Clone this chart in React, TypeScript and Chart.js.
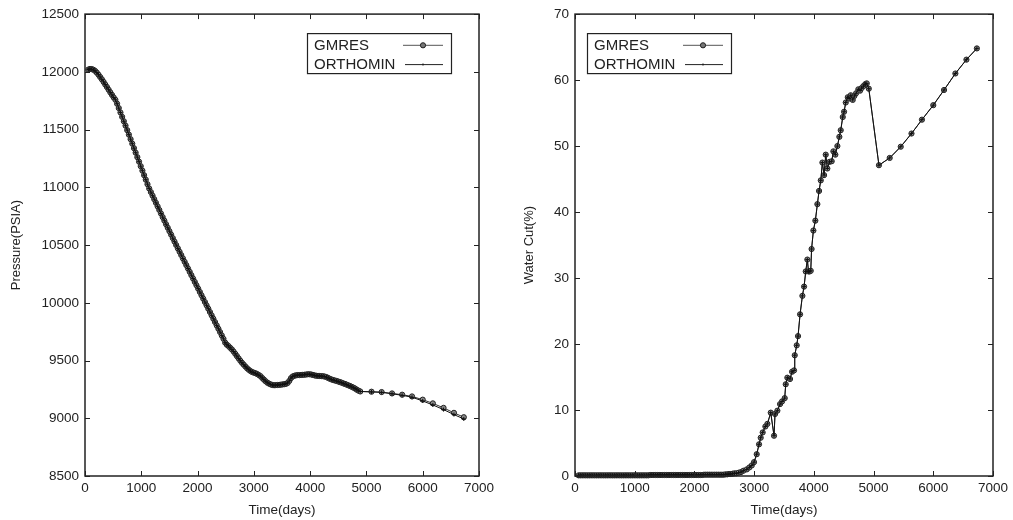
import React, { useEffect, useRef } from "react";
import { Chart, registerables } from "chart.js";

Chart.register(...registerables);

const FONT = "'Liberation Sans', Arial, Helvetica, sans-serif";
const INK = "#222";

// ---------- Left chart: Pressure (PSIA) vs Time (days) ----------
const pressureTimes = [
  60, 90, 120, 150, 180, 210, 240, 270, 300, 330,
  360, 390, 420, 450, 480, 510, 540, 570, 600, 630,
  660, 690, 720, 750, 780, 810, 840, 870, 900, 930,
  960, 990, 1020, 1050, 1080, 1110, 1140, 1170, 1200, 1230,
  1260, 1290, 1320, 1350, 1380, 1410, 1440, 1470, 1500, 1530,
  1560, 1590, 1620, 1650, 1680, 1710, 1740, 1770, 1800, 1830,
  1860, 1890, 1920, 1950, 1980, 2010, 2040, 2070, 2100, 2130,
  2160, 2190, 2220, 2250, 2280, 2310, 2340, 2370, 2400, 2430,
  2460, 2490, 2520, 2550, 2580, 2610, 2640, 2670, 2700, 2730,
  2760, 2790, 2820, 2850, 2880, 2910, 2940, 2970, 3000, 3030,
  3060, 3090, 3120, 3150, 3180, 3210, 3240, 3270, 3300, 3330,
  3360, 3390, 3420, 3450, 3480, 3510, 3540, 3570, 3600, 3630,
  3660, 3690, 3720, 3750, 3780, 3810, 3840, 3870, 3900, 3930,
  3960, 3990, 4020, 4050, 4080, 4110, 4140, 4170, 4200, 4230,
  4260, 4290, 4320, 4350, 4380, 4410, 4440, 4470, 4500, 4530,
  4560, 4590, 4620, 4650, 4680, 4710, 4740, 4770, 4800, 4830,
  4860, 4890,
];
// both solvers coincide over the dense part of the run
const pressureShared = [
  12020, 12025, 12024, 12018, 12008, 11993, 11975, 11955, 11935, 11913,
  11890, 11868, 11845, 11822, 11800, 11778, 11758, 11724, 11686, 11648,
  11610, 11572, 11534, 11495, 11456, 11417, 11378, 11339, 11300, 11261,
  11222, 11183, 11144, 11105, 11066, 11027, 10990, 10959, 10928, 10897,
  10866, 10835, 10804, 10773, 10742, 10711, 10680, 10650, 10620, 10590,
  10560, 10530, 10500, 10471, 10442, 10413, 10384, 10355, 10326, 10297,
  10268, 10239, 10210, 10181, 10152, 10123, 10094, 10065, 10036, 10007,
  9978, 9949, 9920, 9891, 9862, 9833, 9804, 9775, 9746, 9717,
  9688, 9655, 9637, 9625, 9610, 9596, 9578, 9558, 9538, 9518,
  9498, 9480, 9464, 9448, 9433, 9420, 9409, 9400, 9395, 9390,
  9383, 9374, 9364, 9348, 9334, 9320, 9308, 9300, 9293, 9288,
  9286, 9287, 9288, 9289, 9291, 9293, 9295, 9298, 9306, 9324,
  9348, 9362, 9368, 9372, 9374, 9374, 9375, 9376, 9377, 9379,
  9381, 9381, 9379, 9375, 9371, 9368, 9367, 9366, 9365, 9364,
  9361, 9357, 9349, 9342, 9336, 9331, 9327, 9323, 9318, 9313,
  9308, 9302, 9297, 9291, 9285, 9279, 9272, 9265, 9257, 9247,
  9239, 9232,
];
const pressureLateTimes = [5090, 5270, 5455, 5635, 5810, 6000, 6180, 6370, 6555, 6730];
const gmresPressureLate = [9230, 9227, 9215, 9204, 9189, 9161, 9129, 9090, 9047, 9009];
const orthominPressureLate = [9228, 9224, 9212, 9199, 9182, 9150, 9115, 9075, 9032, 8994];

// ---------- Right chart: Water Cut (%) vs Time (days) ----------
const waterCutTimes = [
  60, 90, 120, 150, 180, 210, 240, 270, 300, 330,
  360, 390, 420, 450, 480, 510, 540, 570, 600, 630,
  660, 690, 720, 750, 780, 810, 840, 870, 900, 930,
  960, 990, 1020, 1050, 1080, 1110, 1140, 1170, 1200, 1230,
  1260, 1290, 1320, 1350, 1380, 1410, 1440, 1470, 1500, 1530,
  1560, 1590, 1620, 1650, 1680, 1710, 1740, 1770, 1800, 1830,
  1860, 1890, 1920, 1950, 1980, 2010, 2040, 2070, 2100, 2130,
  2160, 2190, 2220, 2250, 2280, 2310, 2340, 2370, 2400, 2430,
  2460, 2490, 2520, 2550, 2580, 2610, 2640, 2670, 2700,
  2740, 2780, 2820, 2876, 2920, 2960, 2998, 3043, 3082, 3110,
  3143, 3188, 3222, 3278, 3333, 3350, 3389, 3434, 3467, 3512,
  3529, 3556, 3601, 3635, 3668, 3680, 3713, 3735, 3769, 3808,
  3836, 3864, 3891, 3910, 3930, 3948, 3962, 3992, 4025, 4059,
  4087, 4116, 4143, 4171, 4199, 4226, 4260, 4299, 4327, 4360,
  4394, 4427, 4450, 4484, 4506, 4534, 4568, 4590, 4618, 4651,
  4679, 4707, 4745, 4774, 4800, 4830, 4863, 4886, 4920,
  5090, 5270, 5455, 5635, 5810, 6000, 6180, 6370, 6555, 6730,
];
const waterCutValues = [
  0.1, 0.1, 0.1, 0.1, 0.1, 0.1, 0.1, 0.1, 0.1, 0.1,
  0.1, 0.1, 0.1, 0.1, 0.1, 0.1, 0.1, 0.1, 0.1, 0.1,
  0.1, 0.1, 0.1, 0.1, 0.1, 0.1, 0.1, 0.1, 0.1, 0.1,
  0.1, 0.1, 0.1, 0.1, 0.1, 0.1, 0.1, 0.1, 0.1, 0.1,
  0.15, 0.15, 0.15, 0.15, 0.15, 0.15, 0.15, 0.15, 0.15, 0.15,
  0.15, 0.15, 0.15, 0.15, 0.15, 0.15, 0.15, 0.15, 0.15, 0.15,
  0.15, 0.15, 0.15, 0.15, 0.15, 0.15, 0.15, 0.15, 0.15, 0.15,
  0.2, 0.2, 0.2, 0.2, 0.2, 0.2, 0.2, 0.2, 0.2, 0.2,
  0.2, 0.2, 0.25, 0.25, 0.3, 0.3, 0.35, 0.4, 0.4,
  0.5, 0.6, 0.8, 1.0, 1.3, 1.6, 2.1, 3.3, 4.8, 5.8,
  6.6, 7.5, 7.9, 9.6, 6.1, 9.4, 9.9, 10.9, 11.3, 11.8,
  13.9, 14.9, 14.7, 15.8, 16.0, 18.3, 19.8, 21.2, 24.5, 27.3,
  28.7, 31.0, 32.8, 31.0, 31.0, 31.1, 34.4, 37.2, 38.7, 41.2,
  43.2, 44.8, 47.5, 45.6, 48.7, 46.6, 47.6, 47.7, 49.2, 48.7,
  50.0, 51.4, 52.4, 54.4, 55.2, 56.6, 57.4, 57.2, 57.7, 57.0,
  57.6, 58.0, 58.6, 58.4, 58.8, 59.1, 59.4, 59.5, 58.7,
  47.1, 48.2, 49.9, 51.9, 54.0, 56.2, 58.5, 61.0, 63.1, 64.8,
];

const timeTicks = { min: 0, max: 7000, step: 1000 };
const pressureTicks = { min: 8500, max: 12500, step: 500 };
const waterCutTicks = { min: 0, max: 70, step: 10 };

const toPoints = (xs: number[], ys: number[]) => xs.map((x, i) => ({ x, y: ys[i] }));

// Frame with inward ticks on all four sides + boxed legend
const framePlugin = {
  id: "frameLegend",
  afterDatasetsDraw(chart: any, _args: any, opts: any) {
    const { ctx, chartArea: a, scales } = chart;
    ctx.save();
    ctx.strokeStyle = INK;
    ctx.lineWidth = 1.5;
    ctx.strokeRect(a.left, a.top, a.right - a.left, a.bottom - a.top);
    ctx.lineWidth = 1;
    const L = 5;
    ctx.beginPath();
    scales.x.ticks.forEach((t: any) => {
      const px = Math.round(scales.x.getPixelForValue(t.value)) + 0.5;
      ctx.moveTo(px, a.bottom);
      ctx.lineTo(px, a.bottom - L);
      ctx.moveTo(px, a.top);
      ctx.lineTo(px, a.top + L);
    });
    scales.y.ticks.forEach((t: any) => {
      const py = Math.round(scales.y.getPixelForValue(t.value)) + 0.5;
      ctx.moveTo(a.left, py);
      ctx.lineTo(a.left + L, py);
      ctx.moveTo(a.right, py);
      ctx.lineTo(a.right - L, py);
    });
    ctx.stroke();

    // legend
    const lb = opts.box;
    const bx = a.left + lb.dx;
    const by = a.top + lb.dy;
    ctx.fillStyle = "#fff";
    ctx.fillRect(bx, by, lb.w, lb.h);
    ctx.lineWidth = 1.2;
    ctx.strokeStyle = INK;
    ctx.strokeRect(bx + 0.5, by + 0.5, lb.w, lb.h);
    ctx.font = `15px ${FONT}`;
    ctx.fillStyle = INK;
    ctx.textBaseline = "alphabetic";
    ctx.textAlign = "left";
    const rows = [
      { label: "GMRES", y: 11.7, textY: 17, x0: 96, marker: "circle" },
      { label: "ORTHOMIN", y: 31, textY: 36, x0: 98, marker: "dot" },
    ];
    rows.forEach((r) => {
      ctx.fillText(r.label, bx + 7, by + r.textY);
      ctx.beginPath();
      ctx.lineWidth = 1;
      ctx.strokeStyle = r.marker === "circle" ? "#555" : INK;
      ctx.moveTo(bx + r.x0, by + r.y + 0.5);
      ctx.lineTo(bx + 136, by + r.y + 0.5);
      ctx.stroke();
      ctx.beginPath();
      if (r.marker === "circle") {
        ctx.arc(bx + 116, by + r.y + 0.5, 2.6, 0, Math.PI * 2);
        ctx.fillStyle = "#777";
        ctx.fill();
        ctx.strokeStyle = INK;
        ctx.stroke();
      } else {
        ctx.arc(bx + 116, by + r.y + 0.5, 1, 0, Math.PI * 2);
        ctx.fillStyle = INK;
        ctx.fill();
      }
      ctx.fillStyle = INK;
    });
    ctx.restore();
  },
};

function makeConfig(p: {
  gmres: { x: number; y: number }[];
  orthomin: { x: number; y: number }[];
  yTicks: { min: number; max: number; step: number };
  yTitle: string;
  yWidth: number;
  yTitlePad: number;
  padRight: number;
  legendDx: number;
}): any {
  const tickFont = { family: FONT, size: 13.5 };
  return {
    type: "line",
    data: {
      datasets: [
        {
          label: "GMRES",
          data: p.gmres,
          borderColor: "#333",
          borderWidth: 1,
          pointStyle: "circle",
          pointRadius: 2.6,
          pointBackgroundColor: "#8a8a8a",
          pointBorderColor: "#222",
          pointBorderWidth: 1,
          fill: false,
          tension: 0,
          clip: false,
          order: 2,
        },
        {
          label: "ORTHOMIN",
          data: p.orthomin,
          borderColor: "#111",
          borderWidth: 1,
          pointStyle: "cross",
          pointRadius: 2,
          pointBorderColor: "#111",
          pointBorderWidth: 1,
          fill: false,
          tension: 0,
          clip: false,
          order: 1,
        },
      ],
    },
    options: {
      animation: false,
      responsive: false,
      devicePixelRatio: 1,
      events: [],
      layout: { padding: { left: 0, right: p.padRight, top: 10, bottom: 0 } },
      plugins: {
        legend: { display: false },
        tooltip: { enabled: false },
        frameLegend: { box: { dx: p.legendDx, dy: 19, w: 144, h: 40 } },
      },
      scales: {
        x: {
          type: "linear",
          min: timeTicks.min,
          max: timeTicks.max,
          ticks: {
            stepSize: timeTicks.step,
            color: INK,
            font: tickFont,
            padding: 4,
            maxRotation: 0,
            callback: (v: number) => String(v),
          },
          grid: { display: false, drawTicks: false },
          border: { display: false },
          title: {
            display: true,
            text: "Time(days)",
            color: INK,
            font: tickFont,
            padding: { top: 0, bottom: 2 },
          },
          afterFit: (s: any) => {
            s.height = 44;
          },
        },
        y: {
          type: "linear",
          min: p.yTicks.min,
          max: p.yTicks.max,
          ticks: {
            stepSize: p.yTicks.step,
            color: INK,
            font: tickFont,
            padding: 6,
            callback: (v: number) => String(v),
          },
          grid: { display: false, drawTicks: false },
          border: { display: false },
          title: {
            display: true,
            text: p.yTitle,
            color: INK,
            font: { family: FONT, size: 13 },
            padding: { top: p.yTitlePad, bottom: 0 },
          },
          afterFit: (s: any) => {
            s.width = p.yWidth;
          },
        },
      },
    },
    plugins: [framePlugin],
  };
}

function ChartCanvas({ config, left, width }: { config: any; left: number; width: number }) {
  const ref = useRef<HTMLCanvasElement>(null);
  useEffect(() => {
    const chart = new Chart(ref.current as HTMLCanvasElement, config);
    return () => chart.destroy();
  }, []);
  return (
    <canvas
      ref={ref}
      width={width}
      height={520}
      style={{ position: "absolute", left, top: 0, width, height: 520, display: "block" }}
    />
  );
}

export default function App() {
  const pressureConfig = makeConfig({
    gmres: toPoints([...pressureTimes, ...pressureLateTimes], [...pressureShared, ...gmresPressureLate]),
    orthomin: toPoints([...pressureTimes, ...pressureLateTimes], [...pressureShared, ...orthominPressureLate]),
    yTicks: pressureTicks,
    yTitle: "Pressure(PSIA)",
    yWidth: 85,
    yTitlePad: 9,
    padRight: 21,
    legendDx: 222,
  });
  const waterCutConfig = makeConfig({
    gmres: toPoints(waterCutTimes, waterCutValues),
    orthomin: toPoints(waterCutTimes, waterCutValues),
    yTicks: waterCutTicks,
    yTitle: "Water Cut(%)",
    yWidth: 75,
    yTitlePad: 22,
    padRight: 20,
    legendDx: 12,
  });
  return (
    <div style={{ position: "absolute", left: 0, top: 0, width: 1013, height: 520, background: "#fff" }}>
      <ChartCanvas config={pressureConfig} left={0} width={500} />
      <ChartCanvas config={waterCutConfig} left={500} width={513} />
    </div>
  );
}
